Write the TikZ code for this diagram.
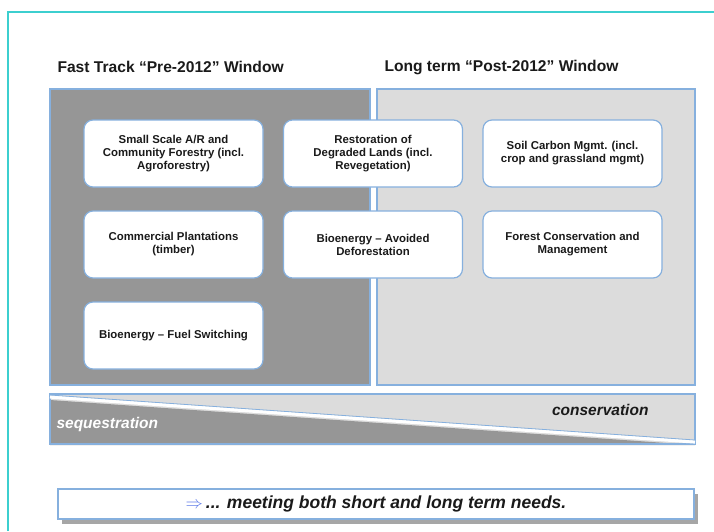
\documentclass[tikz,border=0pt]{standalone}
\usepackage{fontspec}
\setmainfont{Liberation Sans}
\definecolor{frame}{HTML}{3CCFCF}
\definecolor{edge}{HTML}{86B0DE}
\definecolor{darkp}{HTML}{969696}
\definecolor{lightp}{HTML}{DCDCDC}
\definecolor{txt}{HTML}{1A1A1A}
\tikzset{
  box/.style={draw=edge, line width=1.2pt, fill=white, rounded corners=9pt,
    minimum width=179pt, minimum height=67pt, align=center, inner sep=2pt,
    font=\fontsize{11.4}{13}\selectfont\bfseries, text=txt},
  title/.style={anchor=west, font=\fontsize{15.6}{17}\selectfont\bfseries, text=txt},
  panel/.style={draw=edge, line width=1.2pt}
}
\begin{document}
\begin{tikzpicture}[x=1pt,y=-1pt]
\useasboundingbox (0,0) rectangle (714,531);
\fill[white] (0,0) rectangle (714,531);
% cyan frame
\draw[frame, line width=1.6pt] (8,531) -- (8,12) -- (714,12);
% titles
\node[title] (t1) at (54,67) {Fast Track “Pre-2012” Window};
\node[title] (t2) at (381,67) {Long term “Post-2012” Window};
% panels
\draw[panel, fill=darkp] (50,89) rectangle (370,385);
\draw[panel, fill=lightp] (377,89) rectangle (695,385);
% boxes
\node[box] (a1) at (173.5,153.5) {Small Scale A/R and\\Community Forestry (incl.\\Agroforestry)};
\node[box] (b1) at (373,153.5) {Restoration of\\Degraded Lands (incl.\\Revegetation)};
\node[box] (c1) at (572.5,153.5) {Soil Carbon Mgmt. (incl.\\crop and grassland mgmt)};
\node[box] (a2) at (173.5,244.5) {Commercial Plantations\\(timber)};
\node[box] (b2) at (373,244.5) {Bioenergy – Avoided\\Deforestation};
\node[box] (c2) at (572.5,244.5) {Forest Conservation and\\Management};
\node[box] (a3) at (173.5,335.5) {Bioenergy – Fuel Switching};
% bottom strip
\fill[lightp] (50,394) rectangle (695,444);
\fill[darkp] (50,400) -- (695,445) -- (50,445) -- cycle;
\draw[edge, line width=1.2pt] (50,394) rectangle (695,444);
\draw[white, line width=3.2pt] (50,397) -- (695,442);
\draw[edge, line width=0.8pt] (50,395) -- (695,440);
\node[anchor=west, text=white, font=\fontsize{15.5}{17}\selectfont\bfseries\itshape] (seq) at (53,424) {sequestration};
\node[anchor=east, text=txt, font=\fontsize{15.5}{17}\selectfont\bfseries\itshape] (con) at (652,410) {conservation};
% bottom message
\fill[gray!70] (62,494) rectangle (698,524);
\node[draw=edge, line width=1.2pt, fill=white, minimum width=636pt, minimum height=30pt, inner sep=0pt,
  font=\fontsize{17.5}{19}\selectfont\bfseries\itshape, text=txt] (msg) at (376,504)
  {\textcolor{edge!70!blue}{$\Rightarrow$}\,... meeting both short and long term needs.};
\end{tikzpicture}
\end{document}
